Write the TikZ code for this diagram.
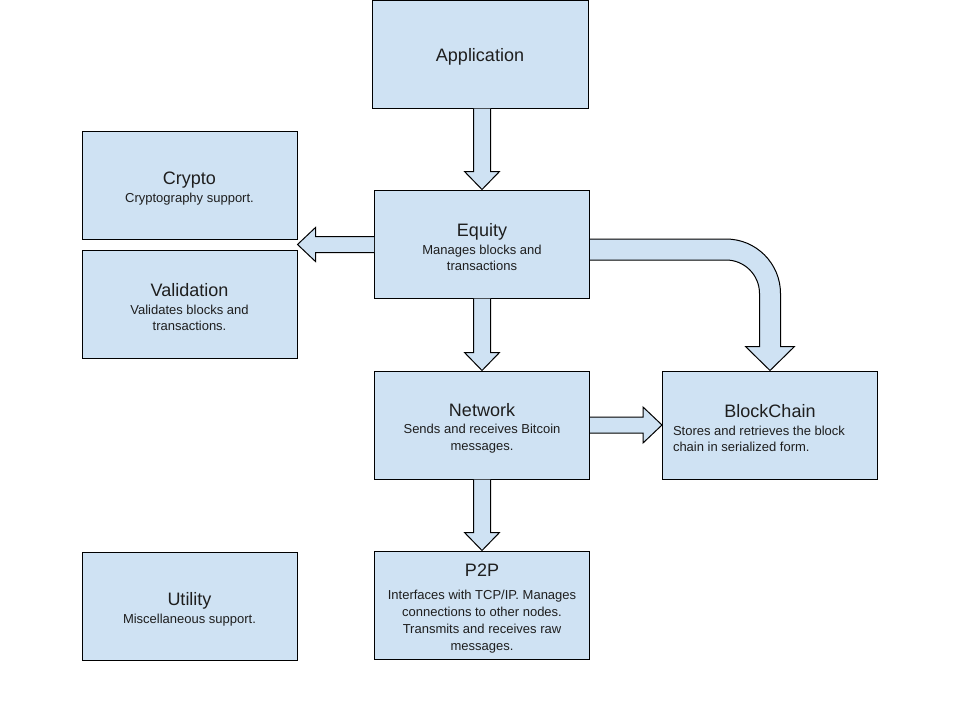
\documentclass[tikz,border=0pt]{standalone}
\usepackage{fontspec}
\setmainfont{Liberation Sans}
\usetikzlibrary{calc, positioning}
\definecolor{boxblue}{RGB}{207, 226, 243}
\definecolor{inkgray}{RGB}{30, 30, 30}
\newcommand{\boxtitle}{\fontsize{18}{20}\selectfont}
\newcommand{\boxtext}{\fontsize{13}{16.8}\selectfont}
\newcommand{\boxhead}[1]{{\boxtitle\rule{0pt}{19.5pt}#1}}

\begin{document}
\begin{tikzpicture}[x=1pt, y=-1pt,
    box/.style={draw=black, line width=1pt, fill=boxblue, text=inkgray, font=\boxtext,
        minimum width=215pt, minimum height=108pt, align=center, inner sep=2pt},
    block/.style={draw=black, line width=1pt, fill=boxblue, line join=miter}]
\useasboundingbox (0,0) rectangle (960,720);

% Boxes
\node[box, minimum width=216pt] (app) at (480,54) {\boxhead{Application}};
\node[box] (eq) at (482,244) {\boxhead{Equity}\\[1pt]Manages blocks and\\transactions};
\node[box] (crypto) at (189.5,185) {\boxhead{Crypto}\\[1pt]Cryptography support.};
\node[box] (valid) at (189.5,304) {\boxhead{Validation}\\[1pt]Validates blocks and\\transactions.};
\node[box] (net) at (482,425) {\boxhead{Network}\\[1pt]Sends and receives Bitcoin\\messages.};
\node[box] (chain) at (770,425) {\boxhead{BlockChain}\\[1pt]
    \begin{minipage}[t]{194pt}\raggedright Stores and retrieves the block\\chain in serialized form.\end{minipage}};
\node[box] (util) at (189.5,606) {\boxhead{Utility}\\[1pt]Miscellaneous support.};
\node[box] (p2p) at (482,605) {\boxhead{P2P}\\[6pt]Interfaces with TCP/IP. Manages\\connections to other nodes.\\Transmits and receives raw\\messages.};

% Down arrows
\foreach \a/\b in {app/eq, eq/net, net/p2p} {
    \draw[block] ($(\a.south -| \b.north)+(-8.5,0)$) -- ($(\b.north)+(-8.5,-18)$)
        -- ($(\b.north)+(-17.5,-18)$) -- (\b.north) -- ($(\b.north)+(17.5,-18)$)
        -- ($(\b.north)+(8.5,-18)$) -- ($(\a.south -| \b.north)+(8.5,0)$);
}

% Arrow to Crypto / Validation
\coordinate (gap) at ($(crypto.south east)!0.5!(valid.north east)$);
\draw[block] ($(eq.west |- gap)+(0,-8)$) -- ($(gap)+(18,-8)$) -- ($(gap)+(18,-17)$)
    -- (gap) -- ($(gap)+(18,17)$) -- ($(gap)+(18,8)$) -- ($(eq.west |- gap)+(0,8)$);

% Arrow to BlockChain
\draw[block] ($(net.east)+(0,-8)$) -- ($(chain.west)+(-19,-8)$) -- ($(chain.west)+(-19,-18)$)
    -- (chain.west) -- ($(chain.west)+(-19,18)$) -- ($(chain.west)+(-19,8)$) -- ($(net.east)+(0,8)$);

% Curved arrow
\draw[block] ($(eq.east)+(0,-5)$) [rounded corners=54.5pt] -- ($(chain.north |- eq.east)+(10.5,-5)$)
    [sharp corners] -- ($(chain.north)+(10.5,-24)$) -- ($(chain.north)+(24.5,-24)$) -- (chain.north)
    -- ($(chain.north)+(-24.5,-24)$) -- ($(chain.north)+(-10.5,-24)$)
    [rounded corners=33.5pt] -- ($(chain.north |- eq.east)+(-10.5,16)$)
    [sharp corners] -- ($(eq.east)+(0,16)$);
\end{tikzpicture}
\end{document}
